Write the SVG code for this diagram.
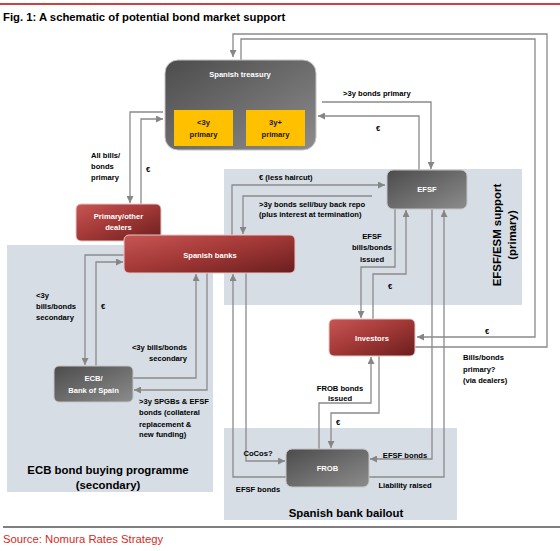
<svg xmlns="http://www.w3.org/2000/svg" width="560" height="551" viewBox="0 0 560 551">
<defs>
<linearGradient id="gGrey" x1="0" y1="0" x2="1" y2="1">
<stop offset="0" stop-color="#4c4c4c"/><stop offset="1" stop-color="#8c8c8c"/>
</linearGradient>
<linearGradient id="gRed" x1="0" y1="0" x2="1" y2="1">
<stop offset="0" stop-color="#c65654"/><stop offset="0.45" stop-color="#a53a38"/><stop offset="1" stop-color="#6a1e1e"/>
</linearGradient>
<marker id="arr" viewBox="0 0 10 10" refX="10" refY="5" markerWidth="7" markerHeight="7" markerUnits="userSpaceOnUse" orient="auto">
<path d="M0,0 L10,5 L0,10 z" fill="#868686"/>
</marker>
<style>
.panel{fill:#d6dde5}
.grey{fill:url(#gGrey);stroke:#c4c4c4;stroke-width:1}
.red{fill:url(#gRed);stroke:#e6c8c8;stroke-width:1}
.yel{fill:#ffc000}
.c{fill:none;stroke:#8a8a8a;stroke-width:1.3;marker-end:url(#arr)}
.n{fill:none;stroke:#8a8a8a;stroke-width:1.3}
.nt{font-family:"Liberation Sans",Arial,sans-serif;font-weight:bold;font-size:7.6px;fill:#ffffff;text-anchor:middle}
.yt{font-family:"Liberation Sans",Arial,sans-serif;font-weight:bold;font-size:7.6px;fill:#1a1a1a;text-anchor:middle}
.l{font-family:"Liberation Sans",Arial,sans-serif;font-weight:bold;font-size:7.6px;fill:#000000}
.m{text-anchor:middle}
.e{text-anchor:end}
.big{font-family:"Liberation Sans",Arial,sans-serif;font-weight:bold;font-size:11.4px;fill:#000000;text-anchor:middle}
</style>
</defs>
<rect width="560" height="551" fill="#ffffff"/>
<line x1="0" y1="4" x2="560" y2="4" stroke="#c00000" stroke-width="1.5"/>
<text x="3" y="21" font-family="Liberation Sans,Arial,sans-serif" font-weight="bold" font-size="11.3" fill="#000">Fig. 1: A schematic of potential bond market support</text>

<g id="panels">
<rect id="panel-ecb" class="panel" x="7" y="245" width="206" height="247"/>
<rect id="panel-efsf" class="panel" x="224" y="169" width="298" height="136"/>
<rect id="panel-bailout" class="panel" x="224" y="428" width="233" height="92"/>
</g>

<g id="connectors">
<path class="c" d="M415,347 H547 V34 H233 V57"/>
<path class="c" d="M241,60 V39 H535 V337 H417"/>
<path class="c" d="M322,102 H431 V169"/>
<path class="c" d="M419,170 V116 H318"/>
<path class="c" d="M163,112 H130 V203"/>
<path class="c" d="M141,204 V119 H163"/>
<path class="c" d="M232,235 V185 H385"/>
<path class="c" d="M372,196 H243 V234"/>
<path class="c" d="M395,209 V267 H361 V318"/>
<path class="c" d="M373,319 V274 H406 V210"/>
<path class="c" d="M432,209 V459 H370"/>
<path class="c" d="M369,477 H444 V210"/>
<path class="c" d="M319,449 V403 H371 V357"/>
<path class="c" d="M379,356 V413 H331 V448"/>
<path class="c" d="M246,273 V461 H285"/>
<path class="c" d="M287,477 H233 V274"/>
<path class="c" d="M124,255 H85 V365"/>
<path class="c" d="M96,366 V262 H123"/>
<path class="c" d="M133,378 H196 V274"/>
<path class="c" d="M207,273 V390 H134"/>
</g>

<g id="treasury">
<rect class="grey" x="165" y="60" width="151" height="90" rx="13"/>
<text class="nt" x="240" y="77">Spanish treasury</text>
<rect class="yel" x="174" y="110" width="59" height="36"/>
<text class="yt" x="203.5" y="125">&lt;3y</text>
<text class="yt" x="203.5" y="137">primary</text>
<rect class="yel" x="246" y="110" width="59" height="36"/>
<text class="yt" x="275.5" y="125">3y+</text>
<text class="yt" x="275.5" y="137">primary</text>
</g>

<g id="dealers">
<rect class="red" x="76" y="204" width="85" height="37" rx="5"/>
<text class="nt" x="118.5" y="219">Primary/other</text>
<text class="nt" x="118.5" y="230">dealers</text>
</g>

<g id="banks">
<rect class="red" x="124" y="235" width="171" height="38" rx="5"/>
<text class="nt" x="210" y="258">Spanish banks</text>
</g>

<g id="efsf">
<rect class="grey" x="387" y="170" width="80" height="39" rx="6"/>
<text class="nt" x="427" y="192">EFSF</text>
</g>

<g id="investors">
<rect class="red" x="329" y="319" width="86" height="37" rx="5"/>
<text class="nt" x="372" y="341">Investors</text>
</g>

<g id="ecb">
<rect class="grey" x="54" y="366" width="79" height="36" rx="5"/>
<text class="nt" x="93.5" y="381">ECB/</text>
<text class="nt" x="93.5" y="393">Bank of Spain</text>
</g>

<g id="frob">
<rect class="grey" x="286" y="449" width="83" height="38" rx="6"/>
<text class="nt" x="327.5" y="471">FROB</text>
</g>

<g id="labels">
<text class="l" x="343" y="96">&gt;3y bonds primary</text>
<text class="l m" x="378" y="131">€</text>
<text class="l" x="91" y="158">All bills/</text>
<text class="l" x="91" y="169">bonds</text>
<text class="l" x="91" y="180">primary</text>
<text class="l m" x="148" y="172">€</text>
<text class="l" x="259" y="180">€ (less haircut)</text>
<text class="l" x="259" y="207">&gt;3y bonds sell/buy back repo</text>
<text class="l" x="259" y="217">(plus interest at termination)</text>
<text class="l m" x="372" y="239">EFSF</text>
<text class="l m" x="372" y="250">bills/bonds</text>
<text class="l m" x="372" y="262">issued</text>
<text class="l m" x="390" y="289">€</text>
<text class="l m" x="487" y="334">€</text>
<text class="l" x="463" y="360">Bills/bonds</text>
<text class="l" x="463" y="372">primary?</text>
<text class="l" x="463" y="383">(via dealers)</text>
<text class="l m" x="340" y="391">FROB bonds</text>
<text class="l m" x="340" y="401">issued</text>
<text class="l m" x="338" y="425">€</text>
<text class="l m" x="258" y="456">CoCos?</text>
<text class="l m" x="258" y="492">EFSF bonds</text>
<text class="l m" x="405" y="458">EFSF bonds</text>
<text class="l m" x="405" y="488">Liability raised</text>
<text class="l" x="36" y="298">&lt;3y</text>
<text class="l" x="36" y="309">bills/bonds</text>
<text class="l" x="36" y="320">secondary</text>
<text class="l m" x="103" y="309">€</text>
<text class="l e" x="187" y="350">&lt;3y bills/bonds</text>
<text class="l e" x="187" y="361">secondary</text>
<text class="l" x="139" y="404">&gt;3y SPGBs &amp; EFSF</text>
<text class="l" x="139" y="415">bonds (collateral</text>
<text class="l" x="139" y="427">replacement &amp;</text>
<text class="l" x="139" y="437">new funding)</text>
<text class="big" x="108" y="474">ECB bond buying programme</text>
<text class="big" x="108" y="489">(secondary)</text>
<text class="big" x="346" y="517">Spanish bank bailout</text>
<text class="big" transform="translate(501,235) rotate(-90)">EFSF/ESM support</text>
<text class="big" transform="translate(516,235) rotate(-90)">(primary)</text>
</g>

<line x1="3" y1="527" x2="560" y2="527" stroke="#000" stroke-width="1"/>
<text x="3" y="543" font-family="Liberation Sans,Arial,sans-serif" font-size="11.3" fill="#d52b1e">Source: Nomura Rates Strategy</text>
</svg>
